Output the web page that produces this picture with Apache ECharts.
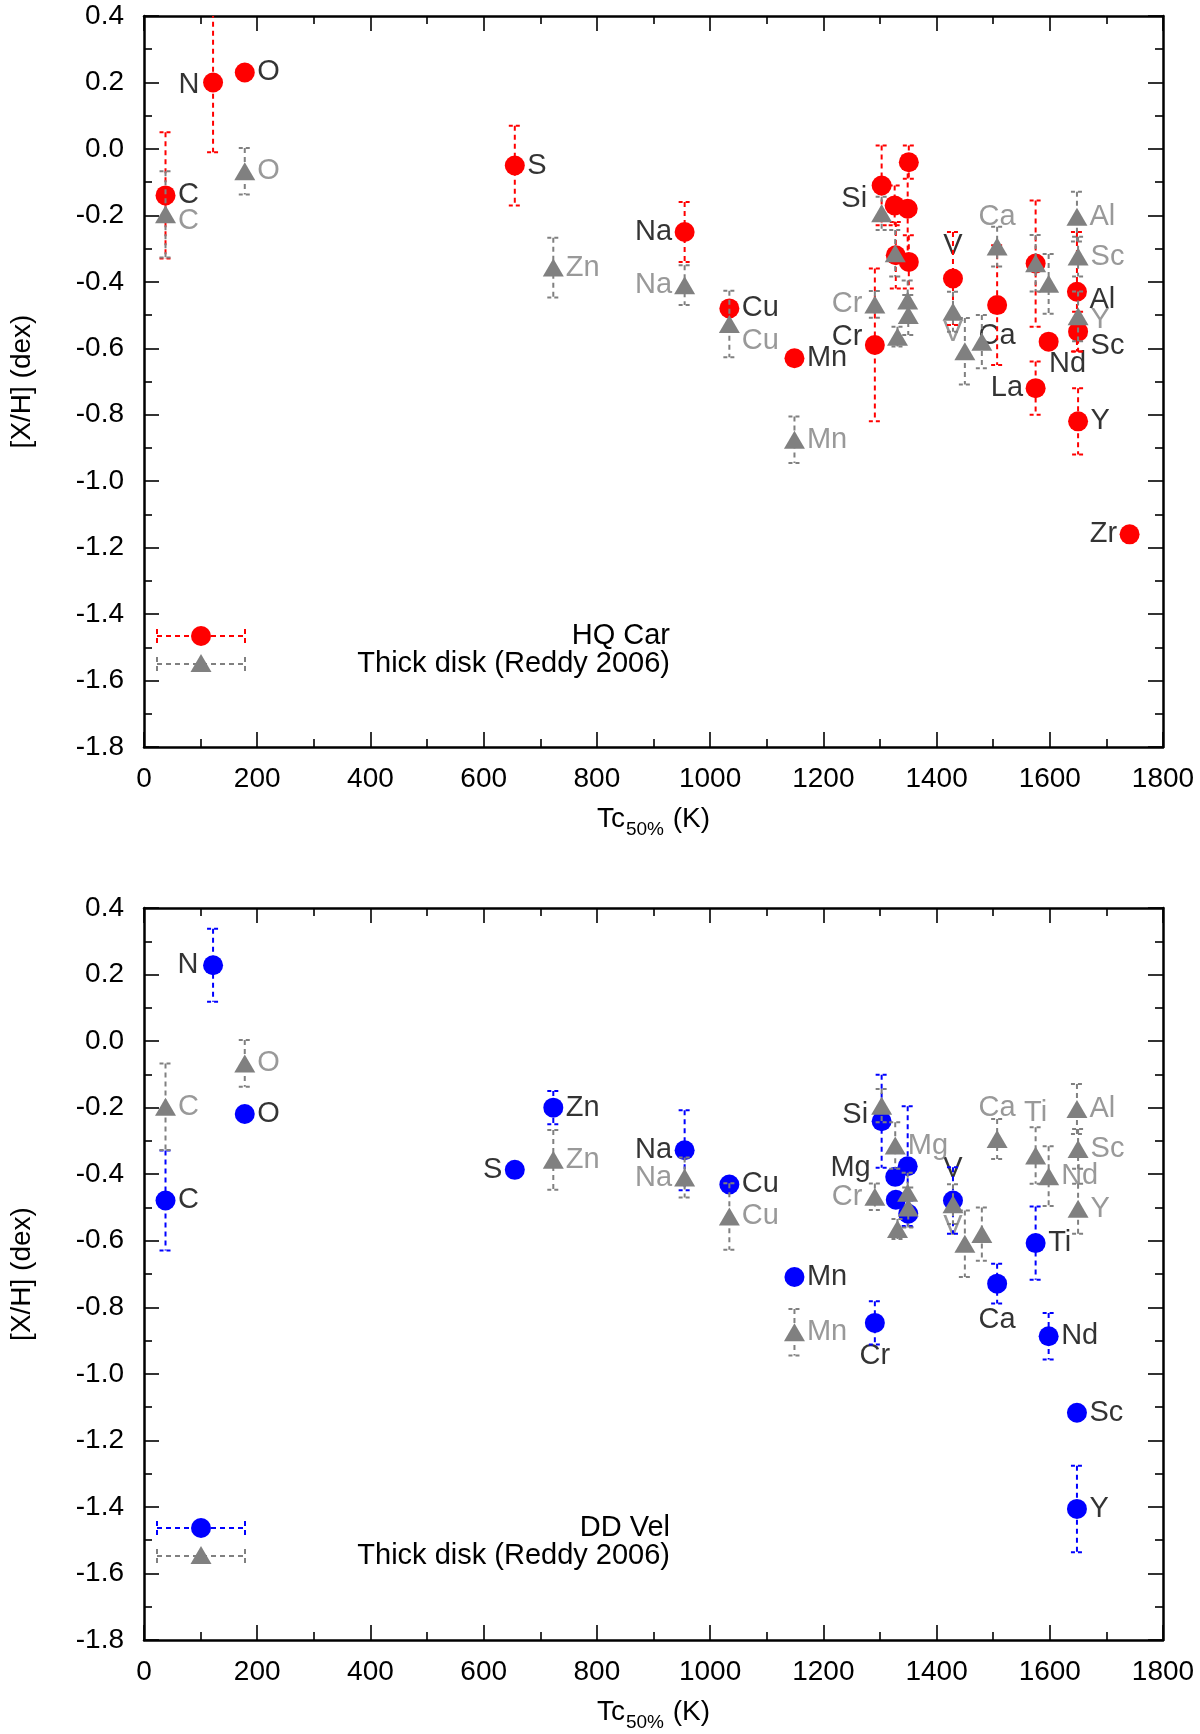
<!DOCTYPE html>
<html><head><meta charset="utf-8">
<script src="https://cdn.jsdelivr.net/npm/echarts@6/dist/echarts.min.js"></script>
<style>html,body{margin:0;padding:0;background:#fff}#c{width:1200px;height:1734px}</style>
</head><body><div id="c"></div>
<script>
// ---------------- DATA ----------------
// HQ Car (top panel, red circles)
const hqNames = ['C','N','O','S','Na','Cu','Mn','Cr','Si','Mg','Fe','Co','Ni','Eu','V','Ca','Ti','La','Nd','Al','Sc','Y','Zr'];
const hqTc    = [38,122,178,655,955,1034,1149,1291,1303,1326,1328,1349,1351,1351,1429,1507,1575,1575,1598,1648,1650,1650,1741];
const hqXH    = [-0.14,0.20,0.23,-0.05,-0.25,-0.48,-0.63,-0.59,-0.11,-0.17,-0.32,-0.18,-0.34,-0.04,-0.39,-0.47,-0.345,-0.72,-0.58,-0.43,-0.55,-0.82,-1.16];
const hqErr   = [0.19,0.21,0,0.12,0.09,0,0,0.23,0.12,0.06,0.10,0.16,0.08,0.05,0.14,0.18,0.19,0.08,0,0.18,0.06,0.10,0];

// DD Vel (bottom panel, blue circles)
const ddNames = ['C','N','O','S','Zn','Na','Cu','Mn','Cr','Si','Mg','Fe','Co','Ni','V','Ca','Ti','Nd','Sc','Y'];
const ddTc    = [38,122,178,655,723,955,1034,1149,1291,1303,1327,1328,1349,1350,1429,1507,1575,1598,1648,1648];
const ddXH    = [-0.479,0.228,-0.219,-0.387,-0.20,-0.328,-0.431,-0.709,-0.847,-0.241,-0.408,-0.477,-0.376,-0.519,-0.479,-0.729,-0.607,-0.887,-1.117,-1.406];
const ddErr   = [0.15,0.11,0,0,0.05,0.12,0.01,0,0.065,0.14,0,0,0.18,0.04,0.10,0.06,0.11,0.07,0,0.13];

// Thick disk (Reddy 2006), grey triangles (both panels)
const tdNames = ['C','O','Zn','Na','Cu','Mn','Cr','Si','Mg','Fe','Co','Ni','V','Ba','Ce','Ca','Ti','Nd','Al','Sc','Y'];
const tdTc    = [38,178,723,955,1034,1149,1291,1303,1327,1331,1349,1350,1429,1450,1480,1507,1575,1598,1648,1650,1650];
const tdXH    = [-0.197,-0.067,-0.357,-0.41,-0.527,-0.875,-0.468,-0.194,-0.314,-0.565,-0.456,-0.50,-0.49,-0.609,-0.58,-0.294,-0.344,-0.406,-0.204,-0.324,-0.504];
const tdErr   = [0.13,0.07,0.09,0.06,0.10,0.07,0.04,0.05,0.07,0.03,0.06,0.06,0.06,0.10,0.08,0.06,0.085,0.09,0.075,0.06,0.075];

// Axis ticks
const xTickStep = 200, xMin = 0, xMax = 1800;
const yTickStep = 0.2, yMin = -1.8, yMax = 0.4;

// Legend texts
const starNames = ['HQ Car', 'DD Vel'];
const refName = 'Thick disk (Reddy 2006)';

// ---------------- LABEL PLACEMENT (style, separate from data) ----------------
// [position, distance, dx, dy]
const hqLab = {C:['r'],N:['l',13,0,3],O:['r'],S:['r'],Na:['l'],Cu:['r'],Mn:['r'],Cr:['l',12,0,-8],Si:['l',14,0,14],
  V:['t',17],Ca:['b',16],La:['l'],Nd:['b',7,19,0],Al:['r',12,0,8],Sc:['r',12,0,14],Y:['r'],Zr:['l']};
const tdLab1 = {C:['r',12,0,7],O:['r'],Zn:['r'],Na:['l'],Cu:['r',12,0,17],Cr:['l'],Mn:['r'],Ca:['t',15],
  Al:['r'],Sc:['r'],Y:['r',12,0,4],V:['b',6]};
const ddLab = {C:['r'],N:['l',14],O:['r'],S:['l'],Zn:['r'],Na:['l'],Cu:['r'],Mn:['r'],Cr:['b',18],Si:['l',13,0,-6],
  Mg:['l',24,0,-9],V:['t',16],Ca:['b',21],Ti:['r'],Nd:['r'],Sc:['r'],Y:['r']};
const tdLab2 = {C:['r'],O:['r'],Zn:['r'],Na:['l'],Cu:['r'],Mn:['r'],Cr:['l'],Mg:['r'],V:['b',8],Ca:['t',16],
  Ti:['t',28],Al:['r'],Sc:['r'],Nd:['r'],Y:['r']};

// ---------------- CHART ----------------
const FONT = '"Liberation Sans", Arial, Helvetica, sans-serif';
const RED = '#ff0000', BLUE = '#0000ff', GREY = '#808080';
const FS = 29, FT = 28;
const chart = echarts.init(document.getElementById('c'), null, {renderer: 'canvas'});

const grids = [
  {left: 141, top: 16, width: 1022, height: 731},
  {left: 141, top: 908, width: 1022, height: 732}
];

const tickCommon = {
  axisLine: {onZero: false, lineStyle: {color: '#000', width: 2.5}},
  axisTick: {inside: true, length: 15, lineStyle: {color: '#000', width: 1.6}},
  minorTick: {show: true, splitNumber: 2, length: 8, lineStyle: {color: '#000', width: 1.6}},
  splitLine: {show: false}
};

const xAxes = [], yAxes = [];
[0, 1].forEach(g => {
  xAxes.push(Object.assign({}, tickCommon, {
    type: 'value', gridIndex: g, position: 'bottom', min: xMin, max: xMax, interval: xTickStep,
    axisLabel: {fontSize: FT, color: '#000', fontFamily: FONT, margin: 18, formatter: v => String(Math.round(v))},
    name: '{m|Tc}{s|50%}{m| (K)}', nameLocation: 'middle', nameGap: 58,
    nameTextStyle: {color: '#000', fontFamily: FONT, rich: {
      m: {fontSize: FT, fontFamily: FONT, color: '#000', verticalAlign: 'top', lineHeight: 34},
      s: {fontSize: 19, fontFamily: FONT, color: '#000', verticalAlign: 'top', lineHeight: 34, padding: [15, 1, 0, 1]}
    }}
  }));
  xAxes.push(Object.assign({}, tickCommon, {
    type: 'value', gridIndex: g, position: 'top', min: xMin, max: xMax, interval: xTickStep,
    axisLabel: {show: false}
  }));
  yAxes.push(Object.assign({}, tickCommon, {
    type: 'value', gridIndex: g, position: 'left', min: yMin, max: yMax, interval: yTickStep,
    axisLabel: {fontSize: FT, color: '#000', fontFamily: FONT, margin: 20,
      formatter: v => (Math.abs(v) < 1e-9 ? 0 : v).toFixed(1)},
    name: '[X/H] (dex)', nameLocation: 'middle', nameGap: 108, nameRotate: 90,
    nameTextStyle: {fontSize: FT, color: '#000', fontFamily: FONT}
  }));
  yAxes.push(Object.assign({}, tickCommon, {
    type: 'value', gridIndex: g, position: 'right', min: yMin, max: yMax, interval: yTickStep,
    axisLabel: {show: false}
  }));
});

function errSeries(g, tc, xh, err, color, z) {
  return {
    type: 'custom', xAxisIndex: 2 * g, yAxisIndex: 2 * g, z: z, clip: true, silent: true,
    encode: {x: 0, y: 1},
    data: tc.map((t, i) => [t, xh[i], err[i]]),
    renderItem: function (params, api) {
      const x = api.value(0), y = api.value(1), e = api.value(2);
      if (!e) return null;
      const t = api.coord([x, y + e]), b = api.coord([x, y - e]);
      const hw = 6;
      const st = {stroke: color, lineWidth: 2, lineDash: [5, 4], fill: null};
      const cs = {stroke: color, lineWidth: 2, lineDash: [4, 3], fill: null};
      return {type: 'group', children: [
        {type: 'line', shape: {x1: t[0], y1: t[1], x2: b[0], y2: b[1]}, style: st},
        {type: 'line', shape: {x1: t[0] - hw, y1: t[1], x2: t[0] + hw, y2: t[1]}, style: cs},
        {type: 'line', shape: {x1: b[0] - hw, y1: b[1], x2: b[0] + hw, y2: b[1]}, style: cs}
      ]};
    }
  };
}

function pointSeries(g, tc, xh, color, symbol, size, z) {
  return {
    type: 'scatter', xAxisIndex: 2 * g, yAxisIndex: 2 * g, z: z, silent: true,
    symbol: symbol, symbolSize: size,
    itemStyle: {color: color, opacity: 1},
    data: tc.map((t, i) => [t, xh[i]])
  };
}

const posMap = {r: 'right', l: 'left', t: 'top', b: 'bottom'};
function labelSeries(g, names, tc, xh, lab, color) {
  const data = [], shifts = [];
  names.forEach((n, i) => {
    const L = lab[n];
    if (!L) return;
    shifts.push([L[2] || 0, L[3] || 0]);
    data.push({
      value: [tc[i], xh[i]],
      label: {show: true, formatter: n, position: posMap[L[0]],
        distance: L[1] !== undefined ? L[1] : 12}
    });
  });
  return {
    type: 'scatter', xAxisIndex: 2 * g, yAxisIndex: 2 * g, z: 1, silent: true,
    symbol: 'circle', symbolSize: 1, itemStyle: {color: 'rgba(0,0,0,0)'},
    label: {color: color, fontSize: FS, fontFamily: FONT},
    labelLayout: function (p) {
      const s = shifts[p.dataIndex] || [0, 0];
      return {dx: s[0], dy: s[1], hideOverlap: false};
    },
    data: data
  };
}

const series = [
  // top panel
  labelSeries(0, hqNames, hqTc, hqXH, hqLab, '#000'),
  labelSeries(0, tdNames, tdTc, tdXH, tdLab1, GREY),
  errSeries(0, hqTc, hqXH, hqErr, RED, 2),
  pointSeries(0, hqTc, hqXH, RED, 'circle', 20, 3),
  errSeries(0, tdTc, tdXH, tdErr, GREY, 4),
  pointSeries(0, tdTc, tdXH, GREY, 'triangle', [21, 18], 5),
  // bottom panel
  labelSeries(1, ddNames, ddTc, ddXH, ddLab, '#000'),
  labelSeries(1, tdNames, tdTc, tdXH, tdLab2, GREY),
  errSeries(1, ddTc, ddXH, ddErr, BLUE, 2),
  pointSeries(1, ddTc, ddXH, BLUE, 'circle', 20, 3),
  errSeries(1, tdTc, tdXH, tdErr, GREY, 4),
  pointSeries(1, tdTc, tdXH, GREY, 'triangle', [21, 18], 5)
];

// Key (legend) samples, drawn as graphics inside each panel
function keyGroup(yTop, starColor, starName) {
  const x1 = 157, x2 = 245, xc = 201, y1 = yTop, y2 = yTop + 28, tx = 670;
  const dash = (c) => ({stroke: c, lineWidth: 2, lineDash: [5, 4]});
  return [
    {type: 'line', shape: {x1: x1, y1: y1, x2: x2, y2: y1}, style: dash(starColor)},
    {type: 'line', shape: {x1: x1, y1: y1 - 7, x2: x1, y2: y1 + 7}, style: dash(starColor)},
    {type: 'line', shape: {x1: x2, y1: y1 - 7, x2: x2, y2: y1 + 7}, style: dash(starColor)},
    {type: 'circle', shape: {cx: xc, cy: y1, r: 10}, style: {fill: starColor}},
    {type: 'line', shape: {x1: x1, y1: y2, x2: x2, y2: y2}, style: dash(GREY)},
    {type: 'line', shape: {x1: x1, y1: y2 - 7, x2: x1, y2: y2 + 7}, style: dash(GREY)},
    {type: 'line', shape: {x1: x2, y1: y2 - 7, x2: x2, y2: y2 + 7}, style: dash(GREY)},
    {type: 'polygon', shape: {points: [[xc, y2 - 10], [xc - 10.5, y2 + 8], [xc + 10.5, y2 + 8]]}, style: {fill: GREY}},
    {type: 'text', x: tx, y: y1, style: {text: starName, fill: '#000', font: FS + 'px ' + FONT, textAlign: 'right', textVerticalAlign: 'middle'}},
    {type: 'text', x: tx, y: y2, style: {text: refName, fill: '#000', font: FS + 'px ' + FONT, textAlign: 'right', textVerticalAlign: 'middle'}}
  ];
}

chart.setOption({
  animation: false,
  backgroundColor: '#fff',
  textStyle: {fontFamily: FONT},
  grid: grids,
  xAxis: xAxes,
  yAxis: yAxes,
  series: series,
  graphic: [].concat(keyGroup(636, RED, starNames[0]), keyGroup(1528, BLUE, starNames[1]))
});
</script>
</body></html>
